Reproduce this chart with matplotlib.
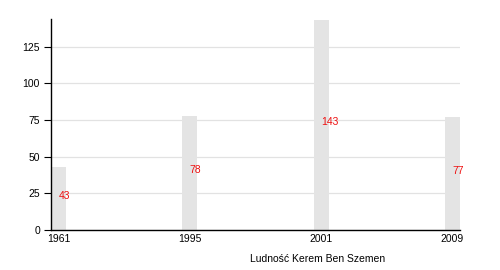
import matplotlib.pyplot as plt
import numpy as np

plt.rcParams['font.family'] = ['Liberation Sans', 'DejaVu Sans']

years = ['1961', '1995', '2001', '2009']
population = [43, 78, 143, 77]

fig = plt.figure(figsize=(5, 2.7), dpi=100)
ax = fig.add_axes([0.102, 0.148, 0.818, 0.782])

x = np.arange(len(years))
width = 0.115
ax.bar(x, population, width=width, color='#e4e4e4', zorder=2)

for xi, v in zip(x, population):
    ax.text(xi, v / 2 + 2, str(v), color='#ee1111', fontsize=7.5,
            ha='left', va='center', zorder=3)

ax.set_xlim(-width / 2, len(years) - 1 + width / 2)
ax.set_ylim(0, 144)
ax.set_yticks([0, 25, 50, 75, 100, 125])
ax.set_xticks(x)
ax.set_xticklabels(years)
ax.yaxis.grid(True, color='#e2e2e2', linewidth=0.9, zorder=0)
ax.set_axisbelow(True)

for side in ['top', 'right']:
    ax.spines[side].set_visible(False)
ax.spines['left'].set_linewidth(1)
ax.spines['bottom'].set_linewidth(1)
ax.tick_params(axis='y', length=5, width=0.8, labelsize=7.5, pad=3)
ax.tick_params(axis='x', length=0, labelsize=7.5, pad=3)

fig.text(250 / 500, 1 - 259 / 270, 'Ludność Kerem Ben Szemen', fontsize=7.5,
         ha='left', va='center')

fig.savefig('out.png', dpi=100)
